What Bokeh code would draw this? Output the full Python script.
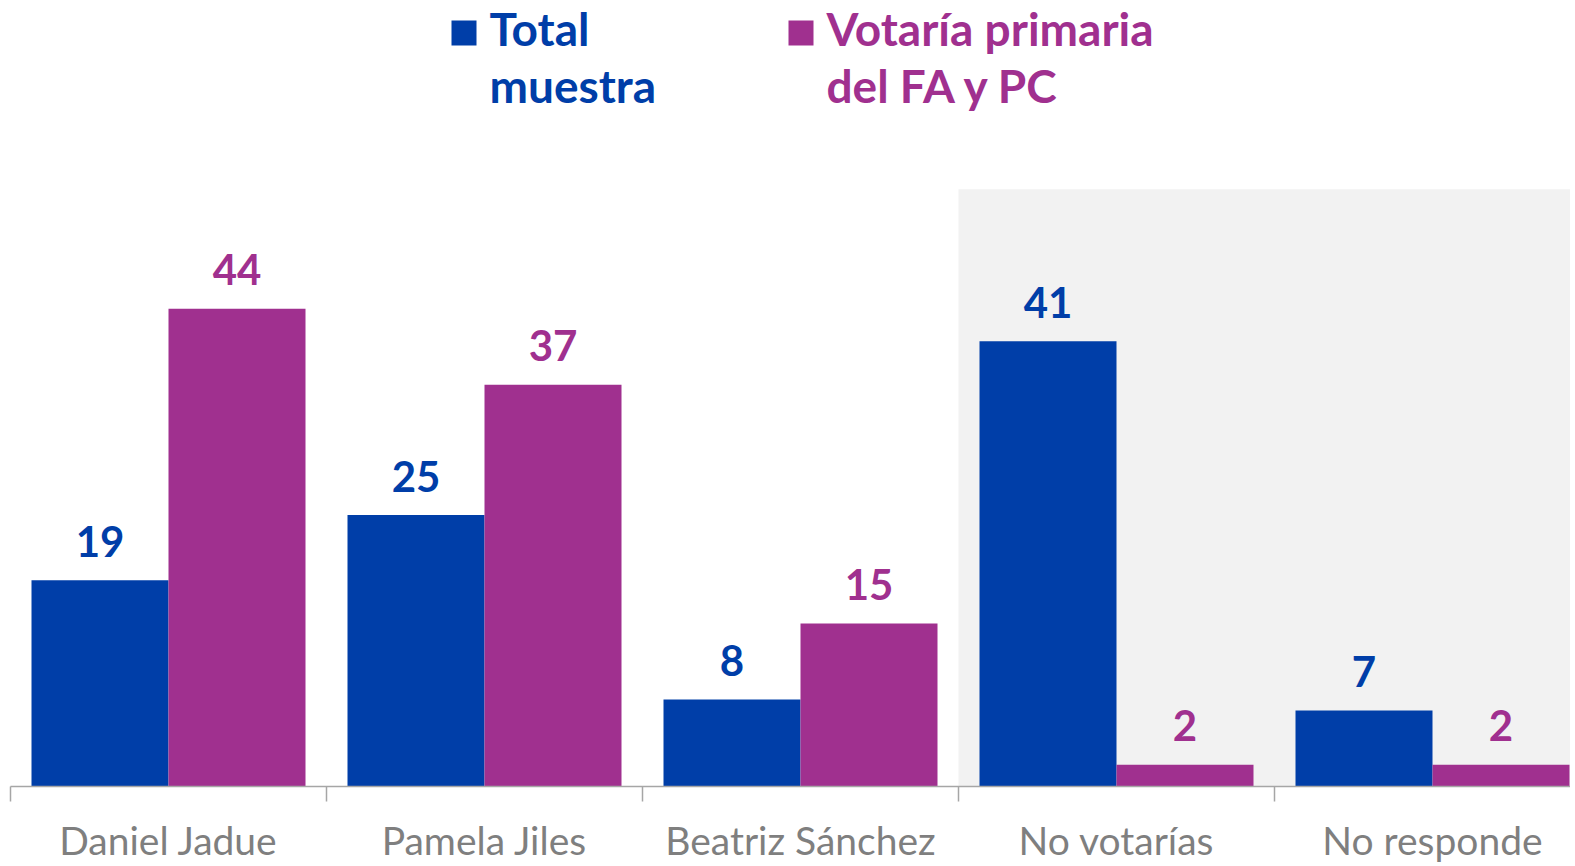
from bokeh.plotting import figure
from bokeh.models import FixedTicker, Label, ColumnDataSource, Range1d
from bokeh.core.properties import value
from bokeh.embed import file_html
from bokeh.resources import INLINE

categories = ["Daniel Jadue", "Pamela Jiles", "Beatriz Sánchez", "No votarías", "No responde"]
total_muestra = [19, 25, 8, 41, 7]
votaria_fa_pc = [44, 37, 15, 2, 2]
series_names = ["Total", "muestra"], ["Votaría primaria", "del FA y PC"]
highlight_cats = [3, 5]      # categories shaded (No votarías, No responde)
highlight_top = 55

BLUE = "#003EA8"
PURPLE = "#A0308F"
FONT = "Lato"

W, H = 1570, 866
frame_left_px = 10         # frame starts at page x=10
cat_px = 316.0             # pixel width of one category
frame_w = W - frame_left_px
x_end = frame_w / cat_px
base_page = 786
k = 10.86                  # px per unit
y_end = base_page / k

p = figure(width=W, height=H, output_backend="svg", toolbar_location=None,
           x_range=Range1d(0, x_end), y_range=Range1d(0, y_end),
           y_axis_type=None, min_border_left=frame_left_px, min_border_right=0,
           min_border_top=0, min_border_bottom=H - base_page)
p.outline_line_color = None
p.xgrid.visible = False
p.ygrid.visible = False
p.background_fill_color = "white"
p.border_fill_color = "white"

def dx(page_x):
    return (page_x - frame_left_px) / cat_px

def dy(page_y):
    return (base_page - page_y) / k

# highlighted background
p.quad(left=[highlight_cats[0]], right=[highlight_cats[1]], bottom=[0], top=[highlight_top],
       fill_color="#F2F2F2", line_color=None)

gap = 21 / cat_px
n = len(categories)
idx = list(range(n))
src = ColumnDataSource(dict(
    l1=[i + gap for i in idx], r1=[i + 0.5 for i in idx], t1=total_muestra,
    l2=[i + 0.5 for i in idx], r2=[i + 1 - gap for i in idx], t2=votaria_fa_pc,
    c1=[i + (gap + 0.5) / 2 for i in idx], c2=[i + (1.5 - gap) / 2 for i in idx],
    s1=[str(v) for v in total_muestra], s2=[str(v) for v in votaria_fa_pc],
))
p.quad(left="l1", right="r1", bottom=0, top="t1", source=src, fill_color=BLUE, line_color=None)
p.quad(left="l2", right="r2", bottom=0, top="t2", source=src, fill_color=PURPLE, line_color=None)

p.text(x="c1", y="t1", text="s1", source=src, text_align="center", text_baseline="alphabetic",
       y_offset=-39, text_font=value(FONT), text_font_style="bold", text_font_size="42px",
       text_color=BLUE)
p.text(x="c2", y="t2", text="s2", source=src, text_align="center", text_baseline="alphabetic",
       y_offset=-39, text_font=value(FONT), text_font_style="bold", text_font_size="42px",
       text_color=PURPLE)

# axis
ax = p.xaxis[0]
ax.ticker = FixedTicker(ticks=[i + 0.5 for i in idx], minor_ticks=list(range(n + 1)))
ax.major_label_overrides = {i + 0.5: c for i, c in zip(idx, categories)}
ax.major_tick_line_color = None
ax.major_tick_out = 0
ax.major_tick_in = 0
ax.minor_tick_out = 15
ax.minor_tick_in = 0
ax.minor_tick_line_color = "#A6A6A6"
ax.minor_tick_line_width = 1.5
ax.axis_line_color = "#A6A6A6"
ax.axis_line_width = 1.5
ax.major_label_text_font = FONT
ax.major_label_text_font_size = "39px"
ax.major_label_text_color = "#7F7F7F"
ax.major_label_standoff = 15

# legend
for (x0, col, lines) in [(451, BLUE, series_names[0]), (788, PURPLE, series_names[1])]:
    p.quad(left=[dx(x0)], right=[dx(x0 + 25)], bottom=[dy(45)], top=[dy(20)],
           fill_color=col, line_color=None)
    for j, t in enumerate(lines):
        p.add_layout(Label(x=dx(x0 + 38), y=dy(28 + 57 * j), text=t, text_font=FONT,
                           text_font_style="bold", text_font_size="46px", text_color=col,
                           text_baseline="alphabetic", text_align="left"))

open("out.html", "w").write(file_html(p, INLINE))
